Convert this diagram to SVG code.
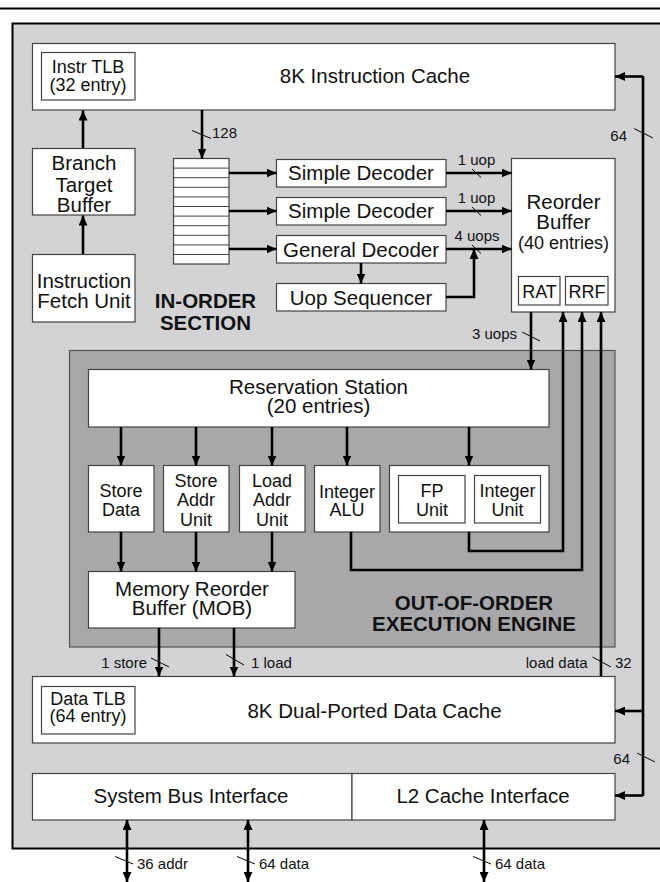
<svg xmlns="http://www.w3.org/2000/svg" width="660" height="882" viewBox="0 0 660 882">
<defs>
<style>
text{font-family:"Liberation Sans",Arial,Helvetica,sans-serif;fill:#111}
.l{font-size:20.5px}
.m{font-size:18px}
.s{font-size:15px}
.b{font-size:20.5px;font-weight:bold}
.box{fill:#fff;stroke:#444;stroke-width:1.2}
.c{fill:none;stroke:#000;stroke-width:2.6}
.t{stroke:#000;stroke-width:1}
</style>
<marker id="ah" viewBox="0 0 10 9" refX="10" refY="4.5" markerWidth="10" markerHeight="9" markerUnits="userSpaceOnUse" orient="auto-start-reverse">
<path d="M0,0 L10,4.5 L0,9 z" fill="#000"/>
</marker>
</defs>
<rect width="660" height="882" fill="#fff"/>
<line x1="0" y1="8.5" x2="660" y2="8.5" stroke="#000" stroke-width="2"/>
<rect id="chip" x="12.5" y="23.5" width="660" height="825" fill="#d3d3d5" stroke="#000" stroke-width="2"/>

<g id="ooo-engine">
<rect x="69.5" y="350.5" width="545.5" height="296.5" fill="#a8a8aa" stroke="#555" stroke-width="1.2"/>
<text class="b" text-anchor="middle"><tspan x="474" y="610">OUT-OF-ORDER</tspan><tspan x="474" y="631">EXECUTION ENGINE</tspan></text>
</g>

<g id="in-order-label">
<text class="b" text-anchor="middle"><tspan x="205.5" y="308">IN-ORDER</tspan><tspan x="205.5" y="330">SECTION</tspan></text>
</g>

<g id="instruction-cache">
<rect class="box" x="32.5" y="43.5" width="582.5" height="66.5"/>
<text class="l" x="375" y="83" text-anchor="middle">8K Instruction Cache</text>
</g>
<g id="instr-tlb">
<rect class="box" x="41.5" y="52.5" width="93.5" height="47.5"/>
<text class="m" text-anchor="middle"><tspan x="88" y="73">Instr TLB</tspan><tspan x="88" y="91">(32 entry)</tspan></text>
</g>
<g id="btb">
<rect class="box" x="32.5" y="148.5" width="102.5" height="66.5"/>
<text class="l" text-anchor="middle"><tspan x="84" y="170">Branch</tspan><tspan x="84" y="191.5">Target</tspan><tspan x="84" y="211.5">Buffer</tspan></text>
</g>
<g id="ifu">
<rect class="box" x="32.5" y="254.5" width="102.5" height="67.5"/>
<text class="l" text-anchor="middle"><tspan x="84" y="288">Instruction</tspan><tspan x="84" y="307.5">Fetch Unit</tspan></text>
</g>
<g id="instr-queue">
<rect class="box" x="173.5" y="158.5" width="55.5" height="105.5"/>
<path d="M173.5,168.1H229M173.5,177.7H229M173.5,187.3H229M173.5,196.9H229M173.5,206.5H229M173.5,216.1H229M173.5,225.7H229M173.5,235.3H229M173.5,244.9H229M173.5,254.5H229" stroke="#444" stroke-width="1"/>
</g>
<g id="simple-decoder-1">
<rect class="box" x="276.5" y="159.5" width="169.5" height="27.5"/>
<text class="l" x="361" y="180" text-anchor="middle">Simple Decoder</text>
</g>
<g id="simple-decoder-2">
<rect class="box" x="276.5" y="197.5" width="169.5" height="27.5"/>
<text class="l" x="361" y="218" text-anchor="middle">Simple Decoder</text>
</g>
<g id="general-decoder">
<rect class="box" x="276.5" y="235.5" width="169.5" height="27.5"/>
<text class="l" x="361" y="256.5" text-anchor="middle">General Decoder</text>
</g>
<g id="uop-sequencer">
<rect class="box" x="276.5" y="283.5" width="169.5" height="27.5"/>
<text class="l" x="361" y="304.5" text-anchor="middle">Uop Sequencer</text>
</g>
<g id="reorder-buffer">
<rect class="box" x="511.5" y="158.5" width="103.5" height="153.5"/>
<text class="l" text-anchor="middle"><tspan x="563.5" y="209">Reorder</tspan><tspan x="563.5" y="229">Buffer</tspan><tspan class="m" x="563.5" y="249">(40 entries)</tspan></text>
</g>
<g id="rat">
<rect class="box" x="518.5" y="276.5" width="41.5" height="28.5"/>
<text class="m" x="539.5" y="298" text-anchor="middle">RAT</text>
</g>
<g id="rrf">
<rect class="box" x="565.5" y="276.5" width="42.5" height="28.5"/>
<text class="m" x="587" y="298" text-anchor="middle">RRF</text>
</g>
<g id="reservation-station">
<rect class="box" x="88.5" y="369.5" width="460.5" height="57.5"/>
<text class="l" text-anchor="middle"><tspan x="318.5" y="394">Reservation Station</tspan><tspan x="318.5" y="413">(20 entries)</tspan></text>
</g>
<g id="store-data">
<rect class="box" x="88.5" y="465.5" width="65.5" height="66.5"/>
<text class="m" text-anchor="middle"><tspan x="121" y="497">Store</tspan><tspan x="121" y="516">Data</tspan></text>
</g>
<g id="store-addr-unit">
<rect class="box" x="163.5" y="465.5" width="65.5" height="66.5"/>
<text class="m" text-anchor="middle"><tspan x="196" y="487">Store</tspan><tspan x="196" y="506">Addr</tspan><tspan x="196" y="525.5">Unit</tspan></text>
</g>
<g id="load-addr-unit">
<rect class="box" x="239.5" y="465.5" width="65.5" height="66.5"/>
<text class="m" text-anchor="middle"><tspan x="272" y="487">Load</tspan><tspan x="272" y="506">Addr</tspan><tspan x="272" y="525.5">Unit</tspan></text>
</g>
<g id="integer-alu">
<rect class="box" x="314.5" y="465.5" width="65.5" height="66.5"/>
<text class="m" text-anchor="middle"><tspan x="347" y="498">Integer</tspan><tspan x="347" y="516">ALU</tspan></text>
</g>
<g id="fp-int-group">
<rect class="box" x="389.5" y="465.5" width="159.5" height="66.5"/>
</g>
<g id="fp-unit">
<rect class="box" x="398.5" y="475.5" width="66.5" height="47.5"/>
<text class="m" text-anchor="middle"><tspan x="432" y="497">FP</tspan><tspan x="432" y="515.5">Unit</tspan></text>
</g>
<g id="integer-unit">
<rect class="box" x="474.5" y="475.5" width="66" height="47.5"/>
<text class="m" text-anchor="middle"><tspan x="507.5" y="497">Integer</tspan><tspan x="507.5" y="515.5">Unit</tspan></text>
</g>
<g id="mob">
<rect class="box" x="88.5" y="571.5" width="206.5" height="56.5"/>
<text class="l" text-anchor="middle"><tspan x="192" y="595.5">Memory Reorder</tspan><tspan x="192" y="615">Buffer (MOB)</tspan></text>
</g>
<g id="data-cache">
<rect class="box" x="32.5" y="676.5" width="582.5" height="66.5"/>
<text class="l" x="374.5" y="718" text-anchor="middle">8K Dual-Ported Data Cache</text>
</g>
<g id="data-tlb">
<rect class="box" x="41.5" y="686.5" width="93.5" height="47.5"/>
<text class="m" text-anchor="middle"><tspan x="88" y="705">Data TLB</tspan><tspan x="88" y="722">(64 entry)</tspan></text>
</g>
<g id="system-bus-interface">
<rect class="box" x="32.5" y="773.5" width="319.5" height="46.5"/>
<text class="l" x="191" y="803" text-anchor="middle">System Bus Interface</text>
</g>
<g id="l2-cache-interface">
<rect class="box" x="352" y="773.5" width="263" height="46.5"/>
<text class="l" x="483" y="803" text-anchor="middle">L2 Cache Interface</text>
</g>

<g id="connectors">
<path class="c" d="M83,148V110.5" marker-end="url(#ah)"/>
<path class="c" d="M83,254V215.5" marker-end="url(#ah)"/>
<path class="c" d="M202,110V158.5" marker-end="url(#ah)"/>
<path class="c" d="M229,173H276.5" marker-end="url(#ah)"/>
<path class="c" d="M229,211H276.5" marker-end="url(#ah)"/>
<path class="c" d="M229,249H276.5" marker-end="url(#ah)"/>
<path class="c" d="M446,173H511.5" marker-end="url(#ah)"/>
<path class="c" d="M446,211H511.5" marker-end="url(#ah)"/>
<path class="c" d="M446,249H511.5" marker-end="url(#ah)"/>
<path class="c" d="M361,263V283.5" marker-end="url(#ah)"/>
<path class="c" d="M446,297H474V249" marker-end="url(#ah)"/>
<path class="c" d="M531,312V369.5" marker-end="url(#ah)"/>
<path class="c" d="M469,532V551H563V312" marker-end="url(#ah)"/>
<path class="c" d="M351,532V570H582V312" marker-end="url(#ah)"/>
<path class="c" d="M601,676V312" marker-end="url(#ah)"/>
<path class="c" d="M121,427V465.5" marker-end="url(#ah)"/>
<path class="c" d="M196,427V465.5" marker-end="url(#ah)"/>
<path class="c" d="M272,427V465.5" marker-end="url(#ah)"/>
<path class="c" d="M347,427V465.5" marker-end="url(#ah)"/>
<path class="c" d="M469,427V465.5" marker-end="url(#ah)"/>
<path class="c" d="M121,532V571.5" marker-end="url(#ah)"/>
<path class="c" d="M196,532V571.5" marker-end="url(#ah)"/>
<path class="c" d="M272,532V571.5" marker-end="url(#ah)"/>
<path class="c" d="M159,628V676.5" marker-end="url(#ah)"/>
<path class="c" d="M234,628V676.5" marker-end="url(#ah)"/>
<path class="c" d="M643,76V796"/>
<path class="c" d="M643,76.5H615" marker-end="url(#ah)"/>
<path class="c" d="M643,711H615" marker-end="url(#ah)"/>
<path class="c" d="M643,795.5H615" marker-end="url(#ah)"/>
<path class="c" d="M127,820V882" marker-start="url(#ah)" marker-end="url(#ah)"/>
<path class="c" d="M248,820V882" marker-start="url(#ah)" marker-end="url(#ah)"/>
<path class="c" d="M484,820V882" marker-start="url(#ah)" marker-end="url(#ah)"/>
<g id="ticks">
<line class="t" x1="192" y1="130.5" x2="211" y2="138.5"/>
<line class="t" x1="472" y1="169" x2="481" y2="177.5"/>
<line class="t" x1="472" y1="207" x2="481" y2="215.5"/>
<line class="t" x1="472" y1="245" x2="481" y2="253.5"/>
<line class="t" x1="634" y1="128.5" x2="653" y2="138"/>
<line class="t" x1="522" y1="332" x2="540" y2="341"/>
<line class="t" x1="151" y1="658" x2="169" y2="667"/>
<line class="t" x1="226" y1="654.5" x2="244" y2="665"/>
<line class="t" x1="592.5" y1="657" x2="611" y2="667"/>
<line class="t" x1="637" y1="753" x2="655" y2="762"/>
<line class="t" x1="115" y1="856.5" x2="133" y2="864"/>
<line class="t" x1="237" y1="856.5" x2="255" y2="864"/>
<line class="t" x1="473" y1="856.5" x2="491" y2="864"/>
</g>
<g id="labels">
<text class="s" x="212" y="138">128</text>
<text class="s" x="476.5" y="165" text-anchor="middle">1 uop</text>
<text class="s" x="476.5" y="203" text-anchor="middle">1 uop</text>
<text class="s" x="477" y="241" text-anchor="middle">4 uops</text>
<text class="s" x="627" y="141" text-anchor="end">64</text>
<text class="s" x="517" y="339" text-anchor="end">3 uops</text>
<text class="s" x="147" y="668" text-anchor="end">1 store</text>
<text class="s" x="251" y="668">1 load</text>
<text class="s" x="587.5" y="668" text-anchor="end">load data</text>
<text class="s" x="615" y="668">32</text>
<text class="s" x="630" y="764" text-anchor="end">64</text>
<text class="s" x="137" y="869">36 addr</text>
<text class="s" x="259" y="869">64 data</text>
<text class="s" x="495" y="869">64 data</text>
</g>
</g>
</svg>
